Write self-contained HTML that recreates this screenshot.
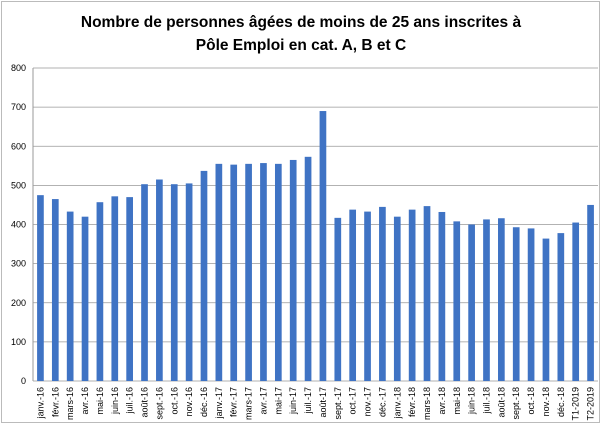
<!DOCTYPE html>
<html><head><meta charset="utf-8"><style>
body{margin:0;background:#fff;width:603px;height:428px;overflow:hidden;font-family:"Liberation Sans",sans-serif}
</style></head><body>
<svg width="603" height="428" style="position:absolute;left:0;top:0">
<rect x="1.5" y="1.5" width="598" height="421" fill="#fff" stroke="#bbb"/>
<text x="301" y="27" text-anchor="middle" font-size="15.5" font-weight="bold">Nombre de personnes âgées de moins de 25 ans inscrites à</text>
<text x="301" y="50" text-anchor="middle" font-size="15.5" font-weight="bold">Pôle Emploi en cat. A, B et C</text>
<g id="grid"></g><g id="bars"></g><g id="xl"></g><g id="yl"></g>
</svg>
<script>
const categories=["janv.-16","févr.-16","mars-16","avr.-16","mai-16","juin-16","juil.-16","août-16","sept.-16","oct.-16","nov.-16","déc.-16","janv.-17","févr.-17","mars-17","avr.-17","mai-17","juin-17","juil.-17","août-17","sept.-17","oct.-17","nov.-17","déc.-17","janv.-18","févr.-18","mars-18","avr.-18","mai-18","juin-18","juil.-18","août-18","sept.-18","oct.-18","nov.-18","déc.-18","T1-2019","T2-2019"];
const values=[475,465,433,420,457,472,470,503,515,503,505,537,555,553,555,557,555,565,573,690,417,438,433,445,420,438,447,432,408,400,413,416,393,390,364,378,405,450];
const yTicks=[0,100,200,300,400,500,600,700,800];
const NS="http://www.w3.org/2000/svg";
const L=33,R=598,T=68,B=381,ymax=800;
const y=v=>B-(B-T)*v/ymax;
const step=(R-L)/categories.length;
const x=i=>L+step*(i+0.5);
function mk(tag,attrs,parent){const e=document.createElementNS(NS,tag);for(const k in attrs)e.setAttribute(k,attrs[k]);document.getElementById(parent).appendChild(e);return e;}
yTicks.forEach(t=>{
  const g=mk('line',{x1:L,x2:R,y1:y(t),y2:y(t),stroke:'#999','stroke-width':0.8},'grid');
  
  
  const tx=mk('text',{x:L-7,y:y(t)+3,'text-anchor':'end','font-size':9},'yl');
  tx.textContent=t;
  
  
});
const ax=mk('line',{x1:L,x2:L,y1:T,y2:B,stroke:'#999'},'grid');


values.forEach((v,i)=>{
  const w=step*0.45;
  const r=mk('rect',{x:x(i)-w/2,y:y(v),width:w,height:B-y(v),fill:'#3f73c4'},'bars');
  
  
  const t=mk('text',{transform:`translate(${x(i)+3},${B+6}) rotate(-90)`,'text-anchor':'end','font-size':9},'xl');
  t.textContent=categories[i];
  
  
});
</script>
</body></html>
